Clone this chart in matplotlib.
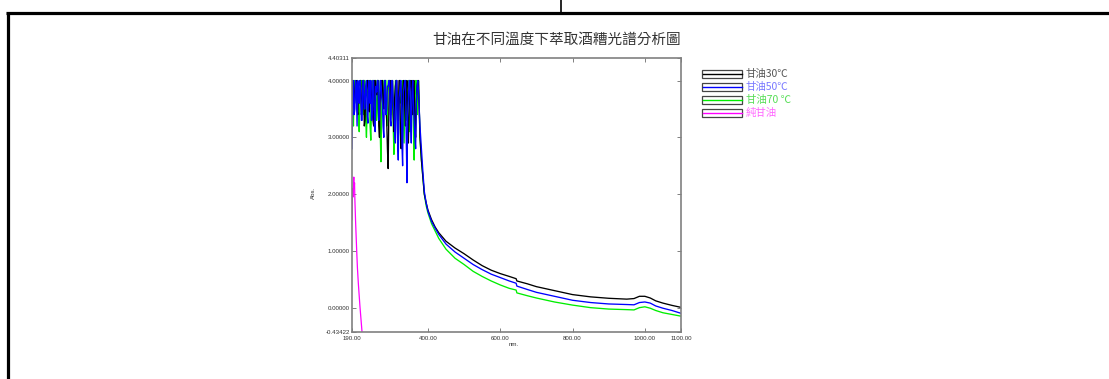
import matplotlib
matplotlib.use("Agg")
import matplotlib.pyplot as plt
from matplotlib.patches import Rectangle

# ---------------- data ----------------
title = "甘油在不同溫度下萃取酒糟光譜分析圖"
series_names = ["甘油30℃", "甘油50℃", "甘油70 ℃", "純甘油"]
series_colors = ["#000000", "#0000ff", "#00ee00", "#ff00ff"]
legend_text_colors = ["#555555", "#7878ff", "#55dd55", "#ff66ff"]

x_noise = [190 + 2 * i for i in range(93)]
black_noise = [3.3, 4.0, 4.0, 3.6, 3.7, 4.0, 4.0, 3.5, 3.4, 3.9,
               3.95, 4.0, 4.0, 3.4, 3.5, 4.0, 4.0, 3.2, 3.3, 3.8,
               3.85, 4.0, 4.0, 3.5, 3.45, 4.0, 4.0, 3.7, 3.6, 3.3,
               3.2, 4.0, 4.0, 3.8, 3.75, 4.0, 4.0, 3.2, 3.0, 3.7,
               3.9, 4.0, 4.0, 3.6, 3.5, 4.0, 4.0, 3.5, 3.3, 2.8,
               2.45, 3.5, 4.0, 4.0, 3.6, 3.9, 4.0, 3.4, 3.1, 3.7,
               3.9, 4.0, 4.0, 3.5, 3.3, 4.0, 4.0, 3.1, 2.8, 3.4,
               3.7, 4.0, 4.0, 3.5, 3.2, 3.8, 4.0, 3.3, 2.9, 3.5,
               3.8, 4.0, 4.0, 3.6, 3.4, 4.0, 4.0, 3.2, 3.0, 3.6,
               3.9, 4.0, 4.0]
blue_noise = [2.8, 3.6, 4.0, 3.4, 3.5, 4.0, 3.9, 3.2, 4.0, 3.7,
              3.6, 4.0, 3.9, 3.3, 3.3, 4.0, 4.0, 3.5, 3.5, 3.9,
              4.0, 3.4, 3.25, 4.0, 3.9, 3.6, 4.0, 3.3, 3.4, 4.0,
              4.0, 3.2, 3.1, 3.9, 3.8, 4.0, 4.0, 3.3, 3.35, 4.0,
              4.0, 3.7, 3.6, 3.2, 3.0, 4.0, 4.0, 3.4, 3.5, 3.9,
              3.9, 4.0, 4.0, 3.3, 3.2, 4.0, 4.0, 3.6, 3.45, 3.1,
              2.9, 4.0, 4.0, 3.0, 2.6, 3.7, 3.8, 4.0, 4.0, 2.9,
              2.5, 3.8, 3.9, 4.0, 4.0, 3.0, 2.2, 3.4, 3.7, 4.0,
              4.0, 3.3, 2.9, 3.8, 4.0, 3.6, 3.3, 3.0, 2.8, 3.6,
              3.9, 4.0, 3.8]
green_noise = [3.9, 3.5, 3.2, 4.0, 4.0, 3.8, 3.6, 4.0, 4.0, 3.4,
               3.1, 3.7, 4.0, 4.0, 3.8, 3.6, 3.4, 4.0, 4.0, 3.3,
               3.0, 3.5, 3.9, 4.0, 4.0, 3.2, 2.95, 3.6, 4.0, 4.0,
               3.5, 3.7, 4.0, 4.0, 3.3, 3.5, 4.0, 4.0, 3.7, 3.1,
               2.57, 3.4, 4.0, 4.0, 3.6, 3.8, 4.0, 4.0, 3.2, 3.5,
               4.0, 4.0, 3.8, 3.4, 3.4, 4.0, 4.0, 3.2, 2.7, 3.5,
               4.0, 4.0, 3.5, 3.1, 2.75, 3.6, 4.0, 4.0, 3.6, 3.8,
               4.0, 3.4, 2.9, 3.5, 4.0, 4.0, 3.3, 3.6, 4.0, 4.0,
               3.1, 3.5, 3.8, 4.0, 4.0, 3.2, 2.6, 3.5, 4.0, 4.0,
               3.4, 3.8, 4.0]

x_tail = [378, 382, 386, 390, 395, 400, 410, 420, 430, 450, 475, 500, 525, 550, 575, 600, 625,
          644, 646, 675, 700, 750, 800, 850, 900, 950, 970, 985, 1000, 1015, 1030, 1050, 1075, 1100]
black_tail = [3.0, 2.6, 2.3, 2.0, 1.85, 1.72, 1.55, 1.42, 1.32, 1.17, 1.05, 0.95, 0.84, 0.74, 0.66,
              0.60, 0.55, 0.51, 0.47, 0.42, 0.37, 0.30, 0.23, 0.19, 0.165, 0.15, 0.16, 0.20, 0.20,
              0.17, 0.12, 0.08, 0.04, 0.005]
blue_tail = [3.2, 2.8, 2.4, 2.05, 1.85, 1.70, 1.52, 1.40, 1.29, 1.12, 0.98, 0.87, 0.76, 0.67, 0.59,
             0.53, 0.47, 0.43, 0.38, 0.32, 0.27, 0.20, 0.13, 0.09, 0.065, 0.055, 0.05, 0.09, 0.10,
             0.08, 0.03, -0.01, -0.05, -0.10]
green_tail = [3.0, 2.6, 2.3, 2.0, 1.80, 1.67, 1.48, 1.35, 1.22, 1.03, 0.87, 0.76, 0.64, 0.55, 0.47,
              0.40, 0.34, 0.31, 0.26, 0.21, 0.17, 0.10, 0.045, 0.0, -0.025, -0.035, -0.04, 0.0,
              0.015, -0.01, -0.05, -0.09, -0.12, -0.15]

x_pure = [190, 191, 192, 193, 194, 195, 196, 197, 198, 200, 203, 205, 207.5, 212, 218]
y_pure = [1.55, 1.9, 2.1, 1.95, 2.2, 2.3, 2.1, 2.2, 1.9, 1.5, 1.0, 0.7, 0.43, 0.02, -0.45]

x_ticks = [190, 400, 600, 800, 1000, 1100]
x_ticklabels = ["190.00", "400.00", "600.00", "800.00", "1000.00", "1100.00"]
y_ticks = [-0.43422, 0, 1, 2, 3, 4, 4.40311]
y_ticklabels = ["-0.43422", "0.00000", "1.00000", "2.00000", "3.00000", "4.00000", "4.40311"]
x_label = "nm."
y_label = "Abs."

# ---------------- figure ----------------
W, H = 1109, 379
fig = plt.figure(figsize=(W / 100, H / 100), dpi=100)
fig.patch.set_facecolor("white")

# overlay in pixel coordinates (page borders, title, legend)
ov = fig.add_axes([0, 0, 1, 1])
ov.set_xlim(0, W)
ov.set_ylim(H, 0)
ov.axis("off")
ov.plot([7.5, 7.5], [11.5, H], color="black", lw=2.3, solid_capstyle="butt")
ov.plot([6.3, W], [12.5, 12.5], color="black", lw=2.3, solid_capstyle="butt")
ov.plot([561, 561], [0, 12.5], color="black", lw=1.2, solid_capstyle="butt")

cjk = ["Noto Sans CJK TC", "DejaVu Sans"]
ov.text(556.7, 40, title, ha="center", va="center", fontsize=10.5, family=cjk, color="#333333")

# legend
ys = [74, 87, 100, 113]
for name, c, tc, yy in zip(series_names, series_colors, legend_text_colors, ys):
    ov.add_patch(Rectangle((702, yy - 4), 40, 8, fill=False, edgecolor="#444444", lw=0.9))
    ov.plot([702.5, 741.5], [yy, yy], color=c, lw=1.0)
    ov.text(746, yy, name, ha="left", va="center", fontsize=7.5, family=cjk, color=tc)

# main axes
left, right, top, bottom = 352, 681, 57.7, 332.3
ax = fig.add_axes([left / W, 1 - bottom / H, (right - left) / W, (bottom - top) / H])
ax.patch.set_alpha(0)

x_all = x_noise + x_tail
ax.plot(x_all, green_noise + green_tail, color=series_colors[2], lw=0.95)
ax.plot(x_all, black_noise + black_tail, color=series_colors[0], lw=0.95)
ax.plot(x_all, blue_noise + blue_tail, color=series_colors[1], lw=0.95)
ax.plot(x_pure, y_pure, color=series_colors[3], lw=0.9)

ax.set_xlim(190, 1100)
ax.set_ylim(-0.43422, 4.40311)
ax.set_xticks(x_ticks)
ax.set_xticklabels(x_ticklabels)
ax.set_yticks(y_ticks)
ax.set_yticklabels(y_ticklabels)
for s in ax.spines.values():
    s.set_color("#808080")
    s.set_linewidth(1.2)
ax.tick_params(direction="in", length=3, width=0.7, color="#808080", top=True, right=True,
               labelsize=4.4, labelcolor="#333333")
ax.tick_params(axis="y", pad=1.5)
ax.tick_params(axis="x", pad=2.5)
for lab in ax.get_xticklabels() + ax.get_yticklabels():
    lab.set_family("Liberation Sans")

ov.text(514, 345, x_label, ha="center", va="center", fontsize=4.4, family="Liberation Sans", color="#333333")
ov.text(313, 193, y_label, ha="center", va="center", fontsize=4.4, family="Liberation Sans",
        color="#333333", rotation=90)

fig.savefig("out.png", dpi=100)
